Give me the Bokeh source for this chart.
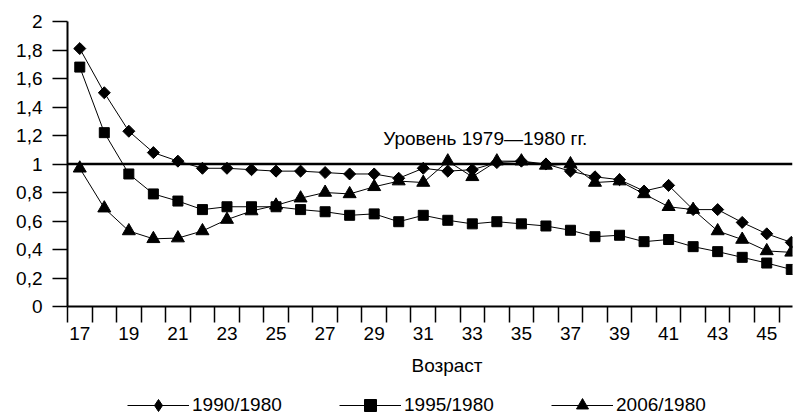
from bokeh.plotting import figure
from bokeh.layouts import column
from bokeh.models import (Range1d, FixedTicker, Span, Label, Legend, LegendItem,
                          Title, CustomJSTickFormatter)
from bokeh.embed import file_html
from bokeh.resources import INLINE

# ---- data -------------------------------------------------------------
ages = list(range(17, 47))
ratio_1990 = [1.81, 1.50, 1.23, 1.08, 1.02, 0.97, 0.97, 0.96, 0.95, 0.95,
              0.94, 0.93, 0.93, 0.90, 0.97, 0.95, 0.96, 1.01, 1.02, 1.00,
              0.95, 0.91, 0.89, 0.81, 0.85, 0.68, 0.68, 0.59, 0.51, 0.45]
ratio_1995 = [1.68, 1.22, 0.93, 0.79, 0.74, 0.68, 0.70, 0.70, 0.70, 0.68,
              0.665, 0.64, 0.65, 0.595, 0.64, 0.605, 0.58, 0.595, 0.58, 0.565,
              0.535, 0.49, 0.50, 0.455, 0.47, 0.42, 0.385, 0.345, 0.305, 0.26]
ratio_2006 = [0.97, 0.69, 0.53, 0.475, 0.48, 0.53, 0.61, 0.67, 0.71, 0.76,
              0.80, 0.79, 0.84, 0.88, 0.87, 1.02, 0.91, 1.02, 1.02, 0.99,
              1.00, 0.87, 0.88, 0.79, 0.70, 0.68, 0.53, 0.47, 0.39, 0.38]
series_names = ["1990/1980", "1995/1980", "2006/1980"]

x_tick_ages = list(range(17, 46, 2))
y_ticks = [0, 0.2, 0.4, 0.6, 0.8, 1, 1.2, 1.4, 1.6, 1.8, 2]
y_tick_labels = ["0", "0,2", "0,4", "0,6", "0,8", "1", "1,2", "1,4", "1,6", "1,8", "2"]

level_value = 1
level_text = "Уровень 1979—1980 гг."
level_text_age = 29.37
level_text_value = 1.18
x_title = "Возраст"

# ---- style ------------------------------------------------------------
FONT = "Liberation Sans"
FS = "19px"

p = figure(width=799, height=385, output_backend="svg", toolbar_location=None,
           x_range=Range1d(16.5, 46.05), y_range=Range1d(0, 2),
           min_border_left=67, min_border_right=7, min_border_top=21,
           min_border_bottom=79)
p.outline_line_color = None
p.grid.visible = False
p.background_fill_color = "white"
p.border_fill_color = "white"

# x axis: tick marks between categories, labels on odd ages
xa = p.xaxis[0]
xa.ticker = FixedTicker(ticks=x_tick_ages, minor_ticks=[a - 0.5 for a in ages])
xa.major_tick_out = 0
xa.major_tick_in = 0
xa.minor_tick_out = 16
xa.minor_tick_in = 0
xa.minor_tick_line_color = "black"
xa.minor_tick_line_width = 1.5
xa.axis_line_color = "black"
xa.axis_line_width = 2
xa.major_label_standoff = 4
xa.major_label_text_font = FONT
xa.major_label_text_font_size = FS
xa.major_label_text_color = "black"

ya = p.yaxis[0]
ya.ticker = FixedTicker(ticks=y_ticks)
ya.formatter = CustomJSTickFormatter(
    args=dict(tick_vals=y_ticks, tick_texts=y_tick_labels),
    code="const i = tick_vals.findIndex(t => Math.abs(t - tick) < 1e-9); "
         "return i >= 0 ? tick_texts[i] : '';")
ya.major_tick_out = 15
ya.major_tick_in = 0
ya.minor_tick_out = 0
ya.minor_tick_in = 0
ya.major_tick_line_color = "black"
ya.major_tick_line_width = 1.5
ya.axis_line_color = "black"
ya.axis_line_width = 2
ya.major_label_standoff = 10
ya.major_label_text_font = FONT
ya.major_label_text_font_size = FS
ya.major_label_text_color = "black"

# reference level line
p.add_layout(Span(location=level_value, dimension="width",
                  line_color="black", line_width=2.5))
p.add_layout(Label(x=level_text_age, y=level_text_value, text=level_text,
                   text_font=FONT, text_font_size=FS, text_color="black",
                   text_align="left", text_baseline="alphabetic"))

# series
for ys in (ratio_1990, ratio_1995, ratio_2006):
    p.line(ages, ys, line_color="black", line_width=1)

p.scatter(ages, ratio_1990, marker="square", angle=0.785398, size=8.5,
          fill_color="black", line_color="black")
p.scatter(ages, ratio_1995, marker="square", size=10,
          fill_color="black", line_color="black")
p.scatter(ages, ratio_2006, marker="triangle", size=13,
          fill_color="black", line_color="black")

p.add_layout(Title(text=x_title, align="left", offset=344, standoff=20,
                   text_font=FONT, text_font_size=FS, text_font_style="normal",
                   text_color="black"), "below")

# ---- legend strip (separate figure below the chart) -----------------------
lg = figure(width=799, height=32, output_backend="svg", toolbar_location=None,
            x_range=Range1d(0, 1), y_range=Range1d(0, 1),
            x_axis_location=None, y_axis_location=None,
            min_border_left=0, min_border_right=0, min_border_top=0,
            min_border_bottom=0)
lg.outline_line_color = None
lg.grid.visible = False
lg.border_fill_color = "white"

items = []
for name, ys, m in zip(series_names, (ratio_1990, ratio_1995, ratio_2006),
                       ("diamond", "square", "triangle")):
    # series data lie outside this strip's ranges: only the legend samples show
    lr = lg.line(ages, ys, line_color="black", line_width=1)
    sr = lg.scatter(ages, ys, marker=m, fill_color="black", line_color="black")
    items.append(LegendItem(label=name, renderers=[lr, sr]))

legend = Legend(items=items, orientation="horizontal", location=(60, -3),
                glyph_width=62, glyph_height=30, label_standoff=3, spacing=53,
                label_width=94, padding=0, margin=0, border_line_color=None,
                background_fill_alpha=0, label_text_font=FONT,
                label_text_font_size=FS, label_text_color="black")
lg.add_layout(legend)

layout = column(p, lg, spacing=0)
open("out.html", "w").write(file_html(layout, INLINE))
